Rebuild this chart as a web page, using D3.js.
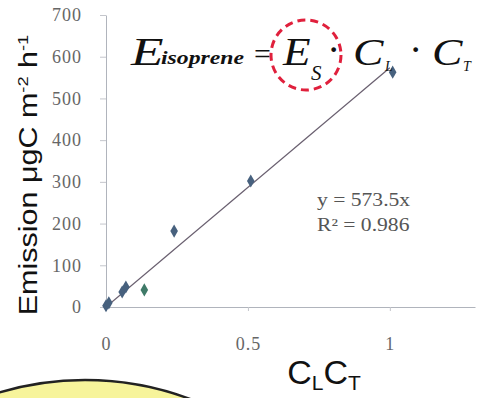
<!DOCTYPE html>
<html>
<head>
<meta charset="utf-8">
<script src="https://cdn.jsdelivr.net/npm/d3@7"></script>
<style>
  body { margin: 0; background: #fff; }
  svg { display: block; }
</style>
</head>
<body>
<div id="graph"></div>
<script>
// data
var ctValues = [0.0, 0.01, 0.057, 0.07, 0.135, 0.24, 0.51, 1.01];
var emissionValues = [3, 10, 36, 48, 41, 182, 302, 563];
var yTicks = [0, 100, 200, 300, 400, 500, 600, 700];
var xTicks = [0, 0.5, 1];
var xTickLabels = ["0", "0.5", "1"];
var slope = 573.5;
var fitLabels = ["y = 573.5x", "R² = 0.986"];

var width = 477, height = 398;
var serif = "'Liberation Serif', 'Times New Roman', serif";
var sans = "'Liberation Sans', Arial, sans-serif";

var svg = d3.select("#graph").append("svg")
  .attr("width", width).attr("height", height);

svg.append("rect").attr("width", width).attr("height", height).attr("fill", "#fff");

// scales
var xScale = d3.scaleLinear().domain([0, 1.3]).range([106, 475]);
var yScale = d3.scaleLinear().domain([0, 700]).range([307, 15]);

// decoration: yellow bubble at the bottom
svg.append("circle")
  .attr("cx", 85).attr("cy", 680).attr("r", 300)
  .attr("fill", "#f7f49b").attr("stroke", "#222").attr("stroke-width", 2.5);

// axes
var yAxis = d3.axisLeft(yScale).tickValues(yTicks).tickSizeInner(6).tickSizeOuter(0).tickPadding(18);
var gy = svg.append("g").attr("transform", "translate(" + [xScale(0), 0] + ")").call(yAxis);

var xAxis = d3.axisBottom(xScale).tickValues(xTicks).tickSizeInner(4).tickSizeOuter(0).tickPadding(26)
  .tickFormat(function(d, i) { return xTickLabels[i]; });
var gx = svg.append("g").attr("transform", "translate(" + [0, yScale(0)] + ")").call(xAxis);

[gx, gy].forEach(function(g) {
  g.select(".domain").attr("stroke", "#b0b4bc");
  g.selectAll(".tick line").attr("stroke", "#c4c6cc");
  g.selectAll(".tick text")
    .attr("fill", "#666")
    .style("font-family", serif)
    .style("font-size", "18px")
    .style("letter-spacing", "1px");
});

// trend line
var line = d3.line()
  .x(function(d) { return xScale(d); })
  .y(function(d) { return yScale(slope * d); });
svg.append("path")
  .datum([0, 1])
  .attr("d", line)
  .attr("fill", "none")
  .attr("stroke", "#6a6070")
  .attr("stroke-width", 1.2);

// points (diamonds)
var diamond = d3.symbol().type(d3.symbolDiamond).size(50);
svg.selectAll(".pt")
  .data(ctValues)
  .enter().append("path")
  .attr("class", "pt")
  .attr("d", diamond)
  .attr("transform", function(d, i) { return "translate(" + [xScale(d), yScale(emissionValues[i])] + ")"; })
  .attr("fill", function(d, i) { return i === 4 ? "#3f7a68" : "#47617e"; });

// fit equation
svg.append("g").selectAll("text")
  .data(fitLabels)
  .enter().append("text")
  .attr("transform", function(d, i) { return "translate(" + [317, 206 + i * 25] + ") scale(1.2,1)"; })
  .attr("fill", "#555")
  .style("font-family", serif)
  .style("font-size", "18px")
  .text(function(d) { return d; });

// y axis title
var yTitle = svg.append("text")
  .attr("transform", "translate(37,175) rotate(-90) scale(1.22,1)")
  .attr("text-anchor", "middle")
  .attr("fill", "#111")
  .style("font-family", sans)
  .style("font-size", "25px");
yTitle.append("tspan").text("Emission μgC m");
yTitle.append("tspan").attr("dy", -9).style("font-size", "15px").text("-2");
yTitle.append("tspan").attr("dy", 9).text(" h");
yTitle.append("tspan").attr("dy", -9).style("font-size", "15px").text("-1");

// x axis title
var xTitle = svg.append("text")
  .attr("x", 324).attr("y", 384)
  .attr("text-anchor", "middle")
  .attr("fill", "#111")
  .style("font-family", sans)
  .style("font-size", "34px");
xTitle.append("tspan").text("C");
xTitle.append("tspan").attr("dy", 6).style("font-size", "21px").text("L");
xTitle.append("tspan").attr("dy", -6).text("C");
xTitle.append("tspan").attr("dy", 6).style("font-size", "21px").text("T");

// formula at the top
var eqParts = [
  { x: 131, y: 65, text: "E", size: 41, sx: 1.3, italic: true },
  { x: 161, y: 64, text: "isoprene", size: 19, sx: 1.25, italic: true, bold: true },
  { x: 254, y: 64, text: "=", size: 30, sx: 1 },
  { x: 283, y: 65, text: "E", size: 41, sx: 1.1, italic: true },
  { x: 311, y: 80, text: "S", size: 21, sx: 1, italic: true },
  { x: 327, y: 63, text: "·", size: 40, sx: 1 },
  { x: 353, y: 65, text: "C", size: 38, sx: 1.2, italic: true },
  { x: 385, y: 71, text: "L", size: 14, sx: 1, italic: true },
  { x: 409, y: 63, text: "·", size: 40, sx: 1 },
  { x: 432, y: 65, text: "C", size: 38, sx: 1.2, italic: true },
  { x: 463, y: 71, text: "T", size: 14, sx: 1, italic: true }
];
svg.append("g").selectAll("text")
  .data(eqParts)
  .enter().append("text")
  .attr("transform", function(d) { return "translate(" + [d.x, d.y] + ") scale(" + d.sx + ",1)"; })
  .attr("fill", "#111")
  .style("font-family", serif)
  .style("font-size", function(d) { return d.size + "px"; })
  .style("font-style", function(d) { return d.italic ? "italic" : "normal"; })
  .style("font-weight", function(d) { return d.bold ? "bold" : "normal"; })
  .text(function(d) { return d.text; });

// red dashed circle around Es
svg.append("circle")
  .attr("cx", 306).attr("cy", 55).attr("r", 35)
  .attr("fill", "none")
  .attr("stroke", "#e0203c")
  .attr("stroke-width", 3)
  .attr("stroke-dasharray", "8,5");
</script>
</body>
</html>
